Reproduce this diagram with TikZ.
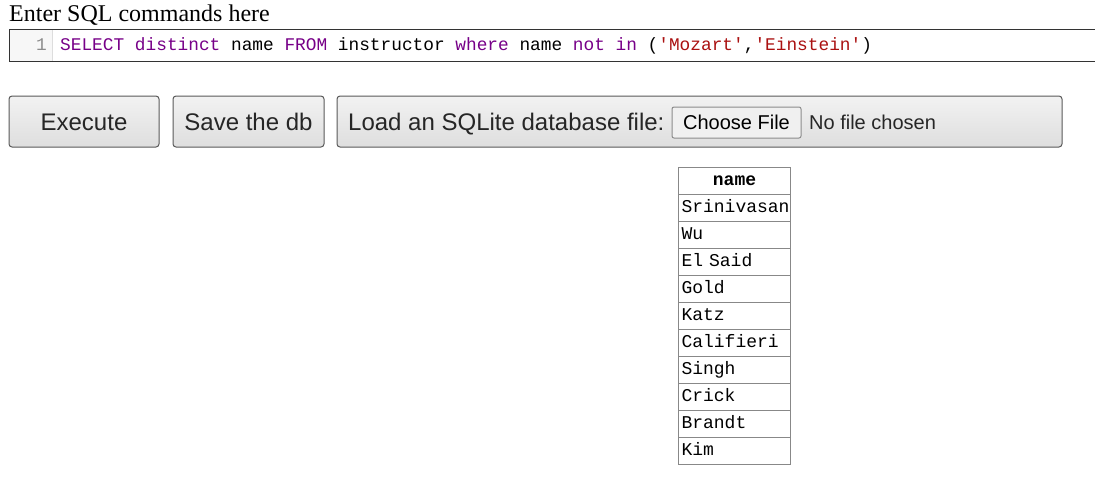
\documentclass[tikz,border=0pt]{standalone}
\usepackage{fontspec}
\setmainfont{Liberation Serif}
\setsansfont{Liberation Sans}
\setmonofont{Liberation Mono}
\usetikzlibrary{positioning}

\definecolor{kwcol}{HTML}{770088}
\definecolor{strcol}{HTML}{AA1111}
\definecolor{guttercol}{HTML}{F7F7F7}
\definecolor{gutterline}{HTML}{DDDDDD}
\definecolor{btntop}{HTML}{F2F2F2}
\definecolor{btnbot}{HTML}{DEDEDE}
\definecolor{cellline}{HTML}{888888}

\newcommand{\kw}[1]{\textcolor{kwcol}{#1}}
\newcommand{\str}[1]{\textcolor{strcol}{#1}}

\begin{document}
\begin{tikzpicture}[x = 1pt, y = -1pt,
    btn/.style = { draw = black!65, line width = 1pt, rounded corners = 3pt,
      top color = btntop, bottom color = btnbot, minimum height = 51pt,
      font = \sffamily\fontsize{24}{28}\selectfont, text = black!85 },
    cell/.style = { draw = cellline, line width = 1pt, anchor = north west,
      text width = 106pt, inner xsep = 3pt, inner ysep = 0pt, minimum height = 27pt,
      align = left, text height = 13pt, text depth = 4pt,
      font = \ttfamily\fontsize{18}{20}\selectfont }]
  \useasboundingbox (0,0) rectangle (1095,483);

  \node [anchor = base west, inner sep = 0pt, font = \fontsize{24}{28}\selectfont]
    (title) at (9,21) {Enter SQL commands here};

  % editor
  \fill [guttercol] (9,29) rectangle (52,61);
  \draw [gutterline, line width = 1pt] (52,29) -- (52,61);
  \draw [black!80, line width = 1pt] (1096,29) -- (9,29) -- (9,61) -- (1096,61);
  \node [anchor = base east, inner sep = 0pt, text = black!45,
    font = \ttfamily\fontsize{17.8}{20}\selectfont] (lineno) at (47,50.5) {1};
  \node [anchor = base west, inner sep = 0pt, font = \ttfamily\fontsize{17.8}{20}\selectfont]
    (code) at (60,50.5) {\kw{SELECT} \kw{distinct} name \kw{FROM} instructor \kw{where} name \kw{not} \kw{in} (\str{'Mozart'},\str{'Einstein'})};

  % buttons
  \node [btn, minimum width = 150pt] (execute) at (84,121.5) {};
  \node [anchor = base, inner sep = 0pt, font = \sffamily\fontsize{24}{28}\selectfont, text = black!85]
    at (84,130) {Execute};
  \node [btn, minimum width = 151pt] (savedb) at (248.5,121.5) {};
  \node [anchor = base, inner sep = 0pt, font = \sffamily\fontsize{24}{28}\selectfont, text = black!85]
    at (248.5,130) {Save the db};
  \node [btn, minimum width = 725pt] (loaddb) at (699.5,121.5) {};
  \node [anchor = base west, inner sep = 0pt, font = \sffamily\fontsize{24}{28}\selectfont, text = black!85]
    (loadlabel) at (348,130) {Load an SQLite database file:};
  \node [draw = black!45, line width = 1pt, rounded corners = 2pt, fill = black!6,
    minimum width = 129pt, minimum height = 31pt, inner sep = 0pt,
    font = \sffamily\fontsize{20}{24}\selectfont] (choose) at (736.5,122.5) {Choose File};
  \node [anchor = west, inner sep = 0pt, font = \sffamily\fontsize{20}{24}\selectfont, text = black!85]
    (nofile) at (809,122.5) {No file chosen};

  % result table
  \node [cell, align = center, font = \ttfamily\bfseries\fontsize{18}{20}\selectfont]
    (head) at (678,167) {name};
  \foreach \who [count = \i] in {Srinivasan, Wu, El Said, Gold, Katz, Califieri, Singh, Crick, Brandt, Kim}
    \node [cell] (row\i) at (678,167+27*\i) {\who};
\end{tikzpicture}
\end{document}
